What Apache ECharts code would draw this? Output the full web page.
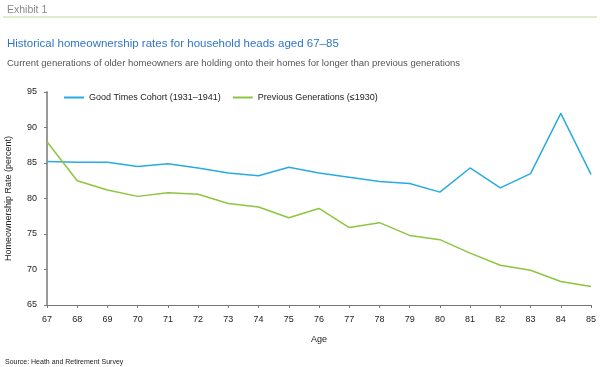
<!DOCTYPE html>
<html><head><meta charset="utf-8">
<script src="https://cdn.jsdelivr.net/npm/echarts@6/dist/echarts.min.js"></script>
<style>html,body{margin:0;padding:0;background:#fff}#c{width:600px;height:367px}</style>
</head><body><div id="c"></div>
<script>
var ages = ['67','68','69','70','71','72','73','74','75','76','77','78','79','80','81','82','83','84','85'];
var goodTimes = [85.2,85.1,85.1,84.5,84.9,84.3,83.6,83.2,84.4,83.6,83.0,82.4,82.1,80.9,84.3,81.5,83.5,92.0,83.4];
var previousGen = [88.0,82.5,81.2,80.3,80.8,80.6,79.3,78.8,77.3,78.6,75.9,76.6,74.8,74.2,72.3,70.6,69.9,68.3,67.6];
var seriesNames = ['Good Times Cohort (1931\u20131941)','Previous Generations (\u22641930)'];
var yTicks = [65,70,75,80,85,90,95];

var font = 'Liberation Sans, Arial, sans-serif';
var chart = echarts.init(document.getElementById('c'));
chart.setOption({
  animation:false,
  textStyle:{fontFamily:font},
  title:[
    {text:'Exhibit 1',left:2,top:0,textStyle:{fontSize:10.5,fontWeight:'normal',color:'#8a8a8a',fontFamily:font}},
    {text:'Historical homeownership rates for household heads aged 67\u201385',left:2,top:33,textStyle:{fontSize:11.5,fontWeight:'normal',color:'#2f76c7',fontFamily:font}},
    {text:'Current generations of older homeowners are holding onto their homes for longer than previous generations',left:2,top:53,textStyle:{fontSize:9.5,fontWeight:'normal',color:'#555',fontFamily:font}},
    {text:'Source: Heath and Retirement Survey',left:0,top:354,textStyle:{fontSize:7,fontWeight:'normal',color:'#222',fontFamily:font}}
  ],
  graphic:[{type:'line',shape:{x1:3,y1:17,x2:597,y2:17},style:{stroke:'#b9dc98',lineWidth:1}}],
  legend:{
    top:88,left:59,itemGap:12,itemWidth:20,itemHeight:2,icon:'rect',
    textStyle:{fontSize:9,color:'#222',fontFamily:font},
    data:seriesNames
  },
  grid:{left:47,right:9,top:92,bottom:62,containLabel:false,outerBoundsMode:'none'},
  xAxis:{
    type:'category',data:ages,boundaryGap:false,
    name:'Age',nameLocation:'middle',nameGap:30,
    nameTextStyle:{fontSize:9,color:'#222',fontFamily:font},
    axisLine:{lineStyle:{color:'#777',width:1}},
    axisTick:{alignWithLabel:true,length:3,lineStyle:{color:'#777'}},
    axisLabel:{fontSize:9,color:'#222',margin:10,fontFamily:font},
    splitLine:{show:false}
  },
  yAxis:{
    type:'value',min:65,max:95,interval:5,
    name:'Homeownership Rate (percent)',nameLocation:'middle',nameGap:34,
    nameTextStyle:{fontSize:9,color:'#222',fontFamily:font},
    axisLine:{show:true,lineStyle:{color:'#999',width:2}},
    axisTick:{show:true,length:3,lineStyle:{color:'#777'}},
    axisLabel:{fontSize:9,color:'#222',margin:10,fontFamily:font},
    splitLine:{show:false}
  },
  series:[
    {name:seriesNames[0],type:'line',data:goodTimes,symbol:'none',lineStyle:{color:'#29abe2',width:1.5},itemStyle:{color:'#29abe2'}},
    {name:seriesNames[1],type:'line',data:previousGen,symbol:'none',lineStyle:{color:'#8cc63f',width:1.5},itemStyle:{color:'#8cc63f'}}
  ]
});
</script></body></html>
